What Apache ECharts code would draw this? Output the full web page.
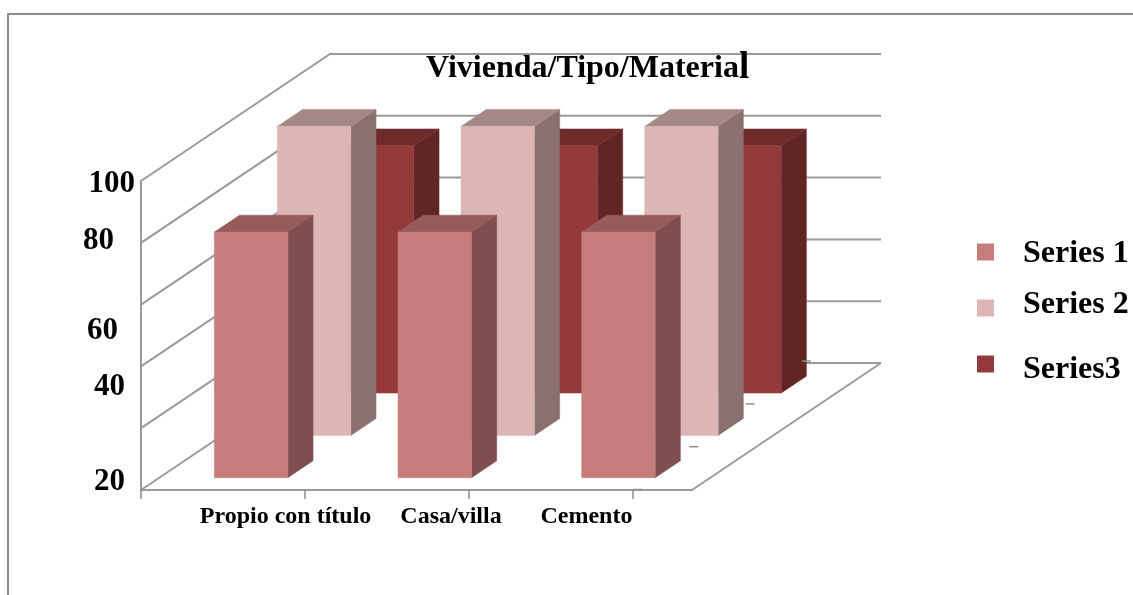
<!DOCTYPE html>
<html lang="es">
<head>
<meta charset="utf-8">
<title>Vivienda/Tipo/Material</title>
<script src="https://cdn.jsdelivr.net/npm/echarts@6/dist/echarts.min.js"></script>
<style>
  html, body { margin: 0; padding: 0; background: #fff; }
  #chart { width: 1133px; height: 595px; }
</style>
</head>
<body>
<div id="chart"></div>
<script>
// Chart values
const categories = ['Propio con título', 'Casa/villa', 'Cemento'];
const series1Values = [79.5, 79.5, 79.5];
const series2Values = [100, 100, 100];
const series3Values = [80, 80, 80];
const gridTicks = [0, 20, 40, 60, 80, 100];
const axisTickLabels = ['20', '40', '60', '80', '100'];

// Label placement on the value axis, and sideways nudges in pixels
const axisLabelHeights = [2.6, 33.3, 51.4, 80.7, 99];
const axisLabelNudge = [10, 10, 17, 21, 0];
const categoryLabelNudge = [52.7, 34.5, -13.7];

// Oblique projection of the depth axis, one row per series
const ROW_DX = 63;
const ROW_DY = 42.33;
const ROWS = 3;
const ROW_START = 0.29;
const BAR_DEPTH = 0.4;
const BAR_WIDTH = 0.4;

// Short tick marks along the floor
const MARK_COUNT = 4;
const MARK_LENGTH = 9;
const FLOOR_TICK_STEP = 164;
const FLOOR_DASH_START = 633;
const FLOOR_DASH_STEP_X = 56.3;
const FLOOR_DASH_STEP_Y = 42.8;

const SERIF = '"Liberation Serif", "Times New Roman", serif';
const AXIS_GREY = '#9a9a9a';

// Draws one pseudo-3D bar, its depth row set by the series
function barRenderer(row, faces) {
  return function (params, api) {
    const cat = api.value(0);
    const top = api.coord([cat, api.value(1)]);
    const base = api.coord([cat, 0]);
    const band = api.size([1, 0])[0];
    const w = band * BAR_WIDTH;
    const ox = (row + ROW_START) * ROW_DX;
    const oy = (row + ROW_START) * ROW_DY;
    const dx = BAR_DEPTH * ROW_DX;
    const dy = BAR_DEPTH * ROW_DY;
    const x0 = top[0] - w / 2 + ox;
    const x1 = x0 + w;
    const yt = top[1] - oy;
    const yb = base[1] - oy;
    const face = (points, color) => ({
      type: 'polygon',
      shape: { points },
      style: { fill: color, stroke: color, lineWidth: 0.5 }
    });
    return {
      type: 'group',
      children: [
        face([[x1, yt], [x1 + dx, yt - dy], [x1 + dx, yb - dy], [x1, yb]], faces.side),
        face([[x0, yt], [x0 + dx, yt - dy], [x1 + dx, yt - dy], [x1, yt]], faces.top),
        face([[x0, yt], [x1, yt], [x1, yb], [x0, yb]], faces.front)
      ]
    };
  };
}

// Side wall and back wall grid lines, plus the floor outline at zero
function wallRenderer(params, api) {
  const p = api.coord([0, api.value(0)]);
  const band = api.size([1, 0])[0];
  const left = p[0] - band / 2;
  const right = left + band * categories.length;
  const dx = ROW_DX * ROWS;
  const dy = ROW_DY * ROWS;
  const line = (points) => ({
    type: 'polyline',
    shape: { points },
    style: { stroke: AXIS_GREY, lineWidth: 2, fill: null }
  });
  const children = [line([[left, p[1]], [left + dx, p[1] - dy], [right + dx, p[1] - dy]])];
  if (api.value(0) === 0) {
    children.push(line([[right, p[1]], [right + dx, p[1] - dy]]));
  }
  return { type: 'group', children };
}

// One downward tick under the front edge and one small dash on the floor
function markRenderer(params, api) {
  const i = api.value(0);
  const p = api.coord([0, 0]);
  const left = p[0] - api.size([1, 0])[0] / 2;
  const tx = left + i * FLOOR_TICK_STEP;
  const dashX = FLOOR_DASH_START + i * FLOOR_DASH_STEP_X;
  const dashY = p[1] - 0.5 - i * FLOOR_DASH_STEP_Y;
  const style = { stroke: '#8e8e8e', lineWidth: 1.5 };
  return {
    type: 'group',
    children: [
      { type: 'line', shape: { x1: tx, y1: p[1], x2: tx, y2: p[1] + MARK_LENGTH }, style },
      { type: 'line', shape: { x1: dashX, y1: dashY, x2: dashX + MARK_LENGTH, y2: dashY }, style }
    ]
  };
}

const barSeries = (name, values, row, faces, z) => ({
  name,
  type: 'custom',
  z,
  coordinateSystem: 'cartesian2d',
  itemStyle: { color: faces.front },
  renderItem: barRenderer(row, faces),
  encode: { x: 0, y: 1 },
  data: values.map((v, i) => [i, v])
});

// Each legend entry sits on its own row, with its text nudged up or down
const legendEntry = (name, top, textPadding) => ({
  data: [name],
  left: 977,
  top,
  padding: 0,
  icon: 'rect',
  itemWidth: 17,
  itemHeight: 17,
  selectedMode: false,
  formatter: (label) => `{t|${label}}`,
  textStyle: {
    rich: {
      t: {
        fontFamily: SERIF,
        fontWeight: 'bold',
        fontSize: 32,
        color: '#000',
        padding: textPadding
      }
    }
  }
});

const chart = echarts.init(document.getElementById('chart'));
chart.setOption({
  animation: false,
  backgroundColor: '#fff',
  title: {
    text: 'Vivienda/Tipo/Materia{big|l}',
    left: 426,
    top: 50,
    padding: 0,
    textStyle: {
      fontFamily: SERIF,
      fontWeight: 'bold',
      fontSize: 32,
      color: '#000',
      rich: {
        big: { fontFamily: SERIF, fontWeight: 'bold', fontSize: 37, color: '#000' }
      }
    }
  },
  legend: [
    legendEntry('Series 1', 237.5, [3, 0, 0, 24]),
    legendEntry('Series 2', 288.5, [0, 0, 7, 24]),
    legendEntry('Series3', 353.5, [11, 0, 0, 24])
  ],
  grid: { left: 141, top: 181, width: 551, height: 309 },
  xAxis: {
    type: 'category',
    data: categories,
    axisLine: { lineStyle: { color: AXIS_GREY, width: 2 } },
    axisTick: { show: false },
    axisLabel: {
      interval: 0,
      margin: 15,
      hideOverlap: false,
      formatter: (value) => `{c${categories.indexOf(value)}|${value}}`,
      rich: Object.fromEntries(categoryLabelNudge.map((n, i) => [`c${i}`, {
        fontFamily: SERIF,
        fontWeight: 'bold',
        fontSize: 24,
        color: '#000',
        padding: n > 0 ? [0, 0, 0, 2 * n] : [0, -2 * n, 0, 0]
      }]))
    }
  },
  yAxis: {
    type: 'value',
    min: 0,
    max: 100,
    interval: 20,
    splitLine: { show: false },
    axisLine: { show: true, lineStyle: { color: AXIS_GREY, width: 2 } },
    axisTick: { show: false },
    axisLabel: {
      margin: 6,
      customValues: axisLabelHeights,
      formatter: (value) => {
        const i = axisLabelHeights.indexOf(value);
        return `{v${i}|${axisTickLabels[i]}}`;
      },
      rich: Object.fromEntries(axisLabelNudge.map((n, i) => [`v${i}`, {
        fontFamily: SERIF,
        fontWeight: 'bold',
        fontSize: 31,
        color: '#000',
        padding: [0, n, 0, 0]
      }]))
    }
  },
  graphic: [
    {
      type: 'polyline',
      silent: true,
      shape: { points: [[8, 595], [8, 14], [1133, 14]] },
      style: { stroke: '#8c8c8c', lineWidth: 2, fill: null }
    }
  ],
  series: [
    {
      name: 'walls',
      type: 'custom',
      z: 1,
      silent: true,
      coordinateSystem: 'cartesian2d',
      renderItem: wallRenderer,
      encode: { y: 0 },
      data: gridTicks.map((v) => [v])
    },
    barSeries('Series 1', series1Values, 0, { front: '#c77c7c', side: '#7f4f4f', top: '#975b5b' }, 5),
    barSeries('Series 2', series2Values, 1, { front: '#ddb5b5', side: '#8b7070', top: '#a68787' }, 4),
    barSeries('Series3', series3Values, 2, { front: '#953a3a', side: '#602525', top: '#6f2a2a' }, 3),
    {
      name: 'marks',
      type: 'custom',
      z: 6,
      silent: true,
      coordinateSystem: 'cartesian2d',
      renderItem: markRenderer,
      encode: { x: 0 },
      data: Array.from({ length: MARK_COUNT }, (_, i) => [i])
    }
  ]
});
</script>
</body>
</html>
